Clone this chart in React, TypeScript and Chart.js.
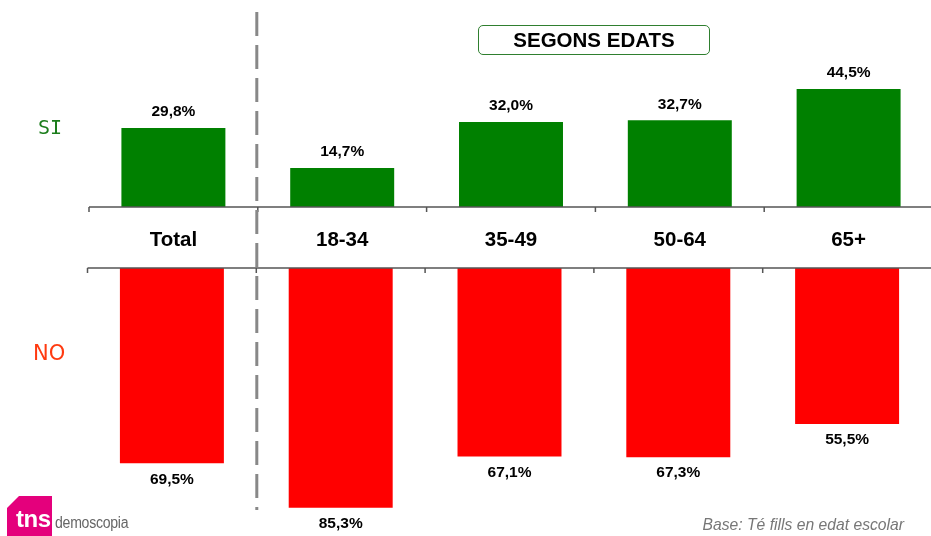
import React, { useEffect, useRef } from "react";
import { Chart, registerables } from "chart.js";

Chart.register(...registerables);

const CATEGORIES = ["Total", "18-34", "35-49", "50-64", "65+"];
const SI_VALUES = [29.8, 14.7, 32.0, 32.7, 44.5];
const NO_VALUES = [69.5, 85.3, 67.1, 67.3, 55.5];
const TITLE = "SEGONS EDATS";
const FOOTER = "Base: Té fills en edat escolar";

const W = 940;
const H = 536;
const AXIS_COLOR = "#555555";

const fmt = (v: number) => v.toFixed(1).replace(".", ",") + "%";

function boundaries(chart: any): number[] {
  const a = chart.chartArea;
  const n = CATEGORIES.length;
  const w = (a.right - a.left) / n;
  const out: number[] = [];
  for (let i = 0; i < n; i++) out.push(a.left + i * w);
  return out;
}

const valueLabels = (dir: number) => ({
  id: "valueLabels" + dir,
  afterDatasetsDraw(chart: any) {
    const ctx = chart.ctx;
    const meta = chart.getDatasetMeta(0);
    const data = chart.data.datasets[0].data as number[];
    ctx.save();
    ctx.font = "bold 15.5px 'Liberation Sans', Arial, sans-serif";
    ctx.fillStyle = "#000";
    ctx.textAlign = "center";
    ctx.textBaseline = "middle";
    meta.data.forEach((el: any, i: number) => {
      ctx.fillText(fmt(data[i]), el.x, el.y + dir * 16);
    });
    ctx.restore();
  },
});

const topDecor = {
  id: "topDecor",
  afterDatasetsDraw(chart: any) {
    const ctx = chart.ctx;
    const a = chart.chartArea;
    const y = a.bottom;
    ctx.save();
    ctx.strokeStyle = AXIS_COLOR;
    ctx.lineWidth = 1.5;
    ctx.beginPath();
    ctx.moveTo(a.left, y);
    ctx.lineTo(a.right, y);
    boundaries(chart).forEach((bx) => {
      ctx.moveTo(bx, y);
      ctx.lineTo(bx, y + 5);
    });
    ctx.stroke();
    // category labels
    ctx.font = "bold 20.5px 'Liberation Sans', Arial, sans-serif";
    ctx.fillStyle = "#000";
    ctx.textAlign = "center";
    ctx.textBaseline = "middle";
    const xs = chart.scales.x;
    CATEGORIES.forEach((c, i) => {
      ctx.fillText(c, xs.getPixelForValue(i), 240);
    });
    // dashed separator
    const b = boundaries(chart)[1] - 1;
    ctx.strokeStyle = "#888888";
    ctx.lineWidth = 3;
    ctx.setLineDash([24, 9]);
    ctx.beginPath();
    ctx.moveTo(b, 12);
    ctx.lineTo(b, 510);
    ctx.stroke();
    ctx.restore();
  },
};

const bottomDecor = {
  id: "bottomDecor",
  afterDatasetsDraw(chart: any) {
    const ctx = chart.ctx;
    const a = chart.chartArea;
    const y = a.top;
    ctx.save();
    ctx.strokeStyle = AXIS_COLOR;
    ctx.lineWidth = 1.5;
    ctx.beginPath();
    ctx.moveTo(a.left, y);
    ctx.lineTo(a.right, y);
    boundaries(chart).forEach((bx) => {
      ctx.moveTo(bx, y);
      ctx.lineTo(bx, y + 5);
    });
    ctx.stroke();
    ctx.restore();
  },
};

function baseOptions(padding: any, yScale: any): any {
  return {
    responsive: false,
    animation: false,
    events: [],
    layout: { padding },
    plugins: { legend: { display: false }, tooltip: { enabled: false } },
    scales: {
      x: { display: false, offset: true },
      y: yScale,
    },
  };
}

export default function App() {
  const topRef = useRef<HTMLCanvasElement>(null);
  const botRef = useRef<HTMLCanvasElement>(null);

  useEffect(() => {
    const top = new Chart(topRef.current!, {
      type: "bar",
      data: {
        labels: CATEGORIES,
        datasets: [
          {
            data: SI_VALUES,
            backgroundColor: "#008000",
            borderWidth: 0,
            barPercentage: 0.616,
            categoryPercentage: 1,
          },
        ],
      },
      options: baseOptions(
        { left: 89, right: W - 933, top: 8, bottom: H - 207 },
        { display: false, min: 0, max: 75 }
      ),
      plugins: [valueLabels(-1), topDecor],
    });
    const bot = new Chart(botRef.current!, {
      type: "bar",
      data: {
        labels: CATEGORIES,
        datasets: [
          {
            data: NO_VALUES,
            backgroundColor: "#ff0000",
            borderWidth: 0,
            barPercentage: 0.616,
            categoryPercentage: 1,
          },
        ],
      },
      options: baseOptions(
        { left: 87.5, right: W - 931.5, top: 268, bottom: 8 },
        { display: false, min: 0, max: 92.5, reverse: true }
      ),
      plugins: [valueLabels(1), bottomDecor],
    });
    return () => {
      top.destroy();
      bot.destroy();
    };
  }, []);

  const canvasStyle: React.CSSProperties = {
    position: "absolute",
    left: 0,
    top: 0,
    width: W,
    height: H,
  };

  return (
    <div
      style={{
        position: "fixed",
        left: 0,
        top: 0,
        width: 931,
        height: 536,
        overflow: "hidden",
        background: "#fff",
        fontFamily: "'Liberation Sans', Arial, sans-serif",
      }}
    >
      <canvas ref={botRef} width={W} height={H} style={canvasStyle} />
      <canvas ref={topRef} width={W} height={H} style={canvasStyle} />
      <div
        style={{
          position: "absolute",
          left: 478,
          top: 25,
          width: 230,
          height: 28,
          border: "1px solid #2f7f2f",
          borderRadius: 5,
          display: "flex",
          alignItems: "center",
          justifyContent: "center",
          fontWeight: "bold",
          fontSize: 20.5,
          color: "#000",
        }}
      >
        {TITLE}
      </div>
      <div
        style={{
          position: "absolute",
          left: 38,
          top: 114,
          fontFamily: "'DejaVu Sans Mono', monospace",
          fontSize: 20,
          color: "#1b7d1b",
          lineHeight: "26px",
        }}
      >
        SI
      </div>
      <div
        style={{
          position: "absolute",
          left: 33,
          top: 340,
          fontFamily: "'DejaVu Sans', sans-serif",
          fontSize: 21,
          color: "#ff3a10",
          lineHeight: "26px",
        }}
      >
        NO
      </div>
      <div
        style={{
          position: "absolute",
          right: 27,
          top: 514,
          fontStyle: "italic",
          fontSize: 15.7,
          color: "#777",
          lineHeight: "22px",
          whiteSpace: "nowrap",
        }}
      >
        {FOOTER}
      </div>
      <div
        style={{
          position: "absolute",
          left: 7,
          top: 496,
          width: 45,
          height: 40,
          background: "#e4007c",
          clipPath: "polygon(12px 0, 100% 0, 100% 100%, 0 100%, 0 12px)",
        }}
      />
      <div
        style={{
          position: "absolute",
          left: 16,
          top: 505,
          fontWeight: "bold",
          fontSize: 24,
          color: "#fff",
          lineHeight: "28px",
          letterSpacing: -0.5,
        }}
      >
        tns
      </div>
      <div
        style={{
          position: "absolute",
          left: 55,
          top: 512,
          fontSize: 16,
          color: "#666",
          lineHeight: "22px",
          letterSpacing: -0.3,
          transform: "scaleX(0.88)",
          transformOrigin: "left center",
          whiteSpace: "nowrap",
        }}
      >
        demoscopia
      </div>
    </div>
  );
}
